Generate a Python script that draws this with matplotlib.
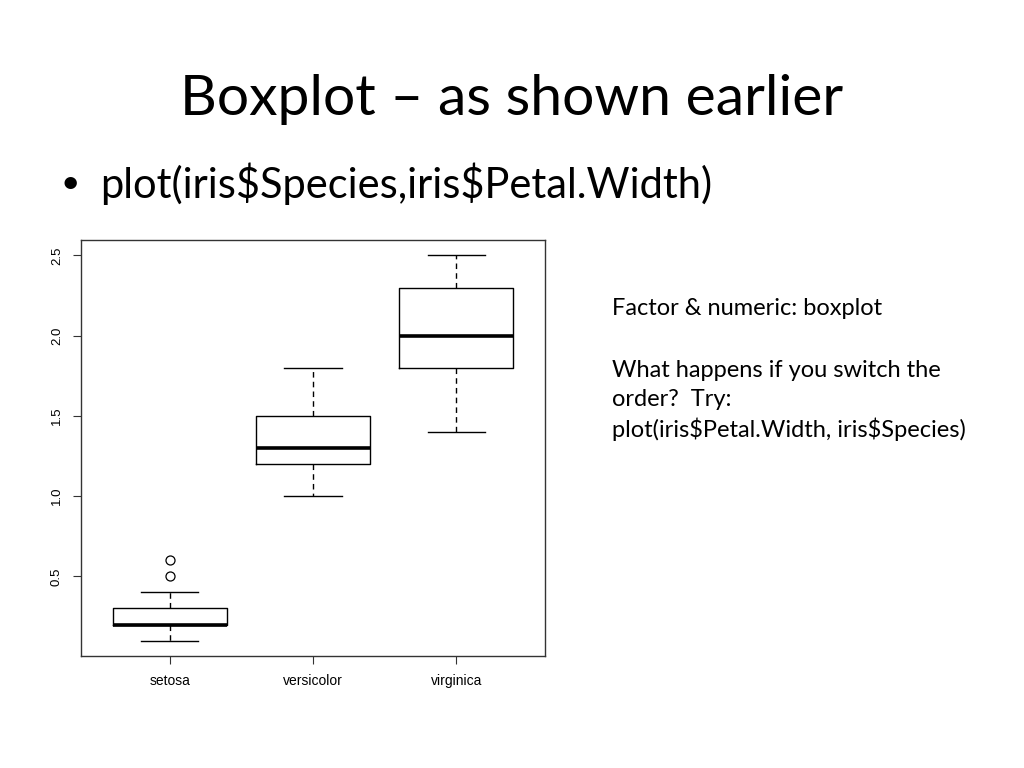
import matplotlib
matplotlib.use("Agg")
import matplotlib.pyplot as plt

plt.rcParams["text.parse_math"] = False

# ── Data (iris$Petal.Width by species) ───────────────────────────────────────
species = ["setosa", "versicolor", "virginica"]
whisker_low = [0.1, 1.0, 1.4]
q1 = [0.2, 1.2, 1.8]
median = [0.2, 1.3, 2.0]
q3 = [0.3, 1.5, 2.3]
whisker_high = [0.4, 1.8, 2.5]
outliers = [[0.5, 0.6], [], []]
y_ticks = [0.5, 1.0, 1.5, 2.0, 2.5]

stats = []
for i, name in enumerate(species):
    stats.append({
        "label": name,
        "whislo": whisker_low[i],
        "q1": q1[i],
        "med": median[i],
        "q3": q3[i],
        "whishi": whisker_high[i],
        "fliers": outliers[i],
    })

# ── Figure (slide) ───────────────────────────────────────────────────────────
W, H = 1024, 768
fig = plt.figure(figsize=(W / 100, H / 100), dpi=100)
fig.patch.set_facecolor("white")

def px(x, y):
    """pixel coords (from top-left) -> figure fraction"""
    return x / W, 1 - y / H

slide_font = ["Lato", "DejaVu Sans"]
fig.text(*px(512, 115), "Boxplot \u2013 as shown earlier", ha="center",
         va="baseline", fontsize=41, family=slide_font, color="black")
fig.text(*px(70, 184), "\u2022", ha="center", va="center", fontsize=24,
         family=slide_font)
fig.text(*px(100, 198), "plot(iris$Species,iris$Petal.Width)", ha="left",
         va="baseline", fontsize=30, family=slide_font)

side_lines = ["Factor & numeric: boxplot",
              "What happens if you switch the",
              "order?  Try:",
              "plot(iris$Petal.Width, iris$Species)"]
side_baselines = [315, 377, 406, 437]
for line, yb in zip(side_lines, side_baselines):
    fig.text(*px(612, yb), line, ha="left", va="baseline", fontsize=17,
             family=slide_font)

# ── Boxplot (R style) ────────────────────────────────────────────────────────
ax = fig.add_axes([81 / W, 1 - 656 / H, 464 / W, 416 / H])
ax.bxp(stats, positions=[1, 2, 3], widths=0.8, showfliers=True,
       boxprops=dict(color="black", linewidth=1.0),
       medianprops=dict(color="black", linewidth=2.6),
       whiskerprops=dict(color="black", linewidth=1.0, linestyle=(0, (4, 3))),
       capprops=dict(color="black", linewidth=1.0),
       capwidths=0.4,
       flierprops=dict(marker="o", markerfacecolor="none",
                       markeredgecolor="black", markersize=6.5,
                       markeredgewidth=0.9))

ax.set_xlim(0.38, 3.62)
ax.set_ylim(0.004, 2.596)
ax.set_yticks(y_ticks)
ax.set_yticklabels([f"{v:.1f}" for v in y_ticks], rotation=90, va="center",
                   family="Liberation Sans", fontsize=9.5)
ax.set_xticks([1, 2, 3])
ax.set_xticklabels(species, family="Liberation Sans", fontsize=10)
ax.tick_params(axis="both", direction="out", length=6, width=0.8,
               color="#333333", pad=7)
for s in ax.spines.values():
    s.set_linewidth(1.0)
    s.set_color("#333333")

fig.savefig("out.png", dpi=100, facecolor="white")
